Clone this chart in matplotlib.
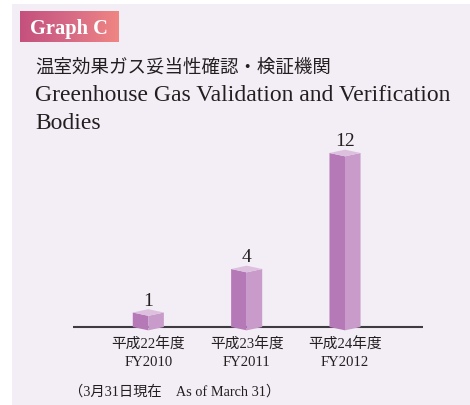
import matplotlib
matplotlib.use('Agg')
import matplotlib.pyplot as plt
from matplotlib.patches import Polygon, Rectangle
from matplotlib.colors import LinearSegmentedColormap
import matplotlib.transforms as mtransforms
import numpy as np

# ---- data ----
categories_jp = ['平成22年度', '平成23年度', '平成24年度']
categories_en = ['FY2010', 'FY2011', 'FY2012']
values = [1, 4, 12]
title_jp = '温室効果ガス妥当性確認・検証機関'
title_en1 = 'Greenhouse Gas Validation and Verification'
title_en2 = 'Bodies'
badge = 'Graph C'
footnote = '（3月31日現在　As of March 31）'

W, H = 470, 406
SERIF = ['Liberation Serif', 'Noto Sans CJK JP', 'DejaVu Sans']
CJK = ['Noto Sans CJK JP', 'Liberation Serif', 'DejaVu Sans']
TXT = '#231f20'

fig = plt.figure(figsize=(W / 100, H / 100), dpi=100)
fig.patch.set_facecolor('white')
fig.patches.append(Rectangle((12 / W, 0), 1 - 12 / W, (H - 5) / H,
                             transform=fig.transFigure, facecolor='#f3eef5',
                             edgecolor='none', zorder=-10))

# badge with gradient
axg = fig.add_axes([20 / W, 1 - 43 / H, 99 / W, 31 / H])
cmap = LinearSegmentedColormap.from_list('g', ['#c4517d', '#d66a86', '#f08583'])
axg.imshow(np.linspace(0, 1, 256).reshape(1, -1), aspect='auto', cmap=cmap,
           extent=[0, 1, 0, 1])
axg.axis('off')
axg.text(0.495, 0.29, badge, color='white', fontsize=14.8, fontweight='bold',
         family=SERIF, ha='center', va='baseline', transform=axg.transAxes)

# titles
fig.text(35 / W, 1 - 68 / H, title_jp, fontsize=13.3, family=CJK, color=TXT,
         va='center', ha='left')
fig.text(35 / W, 1 - 101 / H, title_en1, fontsize=17, family=SERIF, color=TXT,
         va='baseline', ha='left')
fig.text(35 / W, 1 - 129 / H, title_en2, fontsize=17, family=SERIF, color=TXT,
         va='baseline', ha='left')

# chart axes
ax = fig.add_axes([72.6 / W, (H - 339.6) / H, 350.1 / W, 200.1 / H])
ax.set_xlim(-0.77, 2.79)
ax.set_ylim(-0.8, 13)
ax.axis('off')
ax.patch.set_alpha(0)

ax.axhline(0, color='#3d3a42', lw=1.5, zorder=1)

w, d = 0.158, 0.23
c_left, c_right, c_top = '#b479b6', '#c99bcb', '#dcc0de'
for i, v in enumerate(values):
    x = i
    ax.add_patch(Polygon([(x - w, 0), (x, -d), (x, v - d), (x - w, v)],
                         closed=True, facecolor=c_left, edgecolor='none', zorder=3))
    ax.add_patch(Polygon([(x, -d), (x + w, 0), (x + w, v), (x, v - d)],
                         closed=True, facecolor=c_right, edgecolor='none', zorder=3))
    ax.add_patch(Polygon([(x - w, v), (x, v - d), (x + w, v), (x, v + d)],
                         closed=True, facecolor=c_top, edgecolor='none', zorder=3))
    ax.annotate(str(v), (x, v + d), xytext=(0, 3.3), textcoords='offset points',
                ha='center', va='baseline', fontsize=14, family=SERIF, color=TXT)

trans = mtransforms.blended_transform_factory(ax.transData, fig.transFigure)
for i, (jp, en) in enumerate(zip(categories_jp, categories_en)):
    ax.text(i, 1 - 345 / H, jp, transform=trans, ha='center', va='center',
            fontsize=10.6, family=SERIF, color=TXT)
    ax.text(i, 1 - 363 / H, en, transform=trans, ha='center', va='center',
            fontsize=10.6, family=SERIF, color=TXT)

fig.text(69 / W, 1 - 392 / H, footnote, fontsize=10.3, family=SERIF, color=TXT,
         va='center', ha='left')

fig.savefig('out.png', dpi=100, facecolor=fig.get_facecolor())
